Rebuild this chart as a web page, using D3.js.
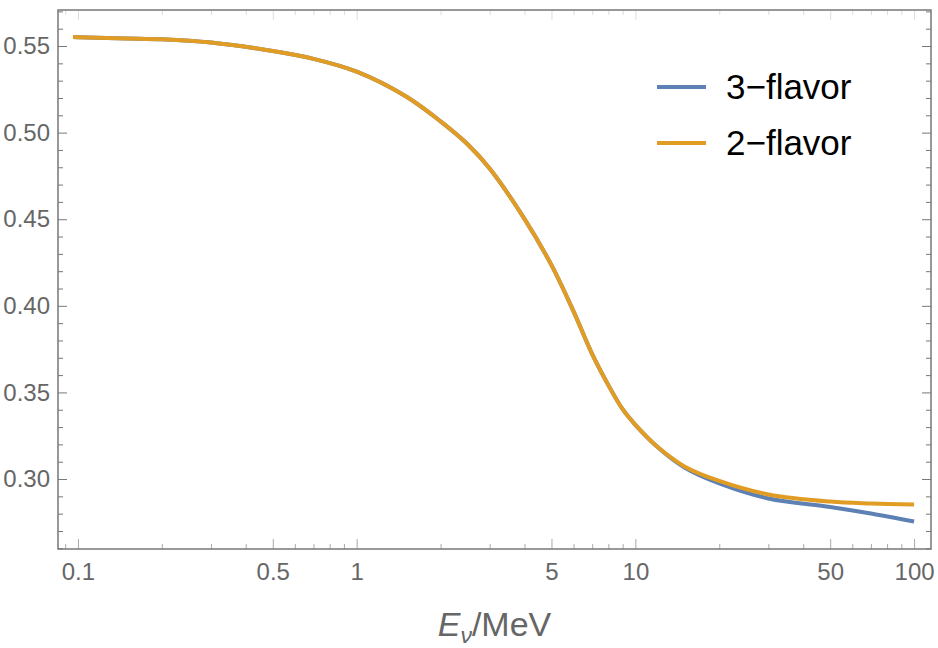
<!DOCTYPE html>
<meta charset="utf-8">
<style>
body { margin: 0; background: #fff; font-family: "Liberation Sans", Arial, sans-serif; }
.axis text { fill: #666; font-size: 24px; font-family: "Liberation Sans", Arial, sans-serif; }
.axis .domain { display: none; }
.ylab line { stroke: #777; }
.xlab line { stroke: #aaa; }
.top line { stroke: #ddd; }
.legend { font-size: 35px; fill: #000; }
</style>
<body>
<script src="https://d3js.org/d3.v7.min.js"></script>
<script>

// neutrino energy (MeV) and the two curves
var energy      = [0.096, 0.1, 0.15, 0.2, 0.3, 0.5, 0.7, 1, 1.5, 2, 2.5, 3, 4, 5, 6, 7, 8, 9, 10, 12, 15, 20, 30, 50, 70, 100];
var threeFlavor = [0.5552, 0.5551, 0.5544, 0.5539, 0.5520, 0.5471, 0.5426, 0.5352, 0.5210, 0.5065, 0.4933, 0.4793, 0.4502, 0.4235, 0.3968, 0.3721, 0.3542, 0.3403, 0.3313, 0.3185, 0.3067, 0.2975, 0.2888, 0.2839, 0.2801, 0.2755];
var twoFlavor   = [0.5552, 0.5551, 0.5544, 0.5539, 0.5520, 0.5471, 0.5426, 0.5352, 0.5210, 0.5065, 0.4933, 0.4793, 0.4502, 0.4235, 0.3968, 0.3721, 0.3542, 0.3403, 0.3313, 0.3186, 0.3073, 0.2989, 0.2911, 0.2870, 0.2859, 0.2853];

var xMajor = [0.1, 0.5, 1, 5, 10, 50, 100];
var yMajor = [0.30, 0.35, 0.40, 0.45, 0.50, 0.55];

var seriesNames  = ["3\u2212flavor", "2\u2212flavor"];
var seriesColors = ["#5E81B5", "#E19C24"];

var W = 938, H = 648;
var frame = {left: 58, right: 931, top: 10, bottom: 549};

var x = d3.scaleLog().domain([0.0848, 115]).range([frame.left, frame.right]);
var y = d3.scaleLinear().domain([0.2596, 0.5708]).range([frame.bottom, frame.top]);

var svg = d3.select("body").append("svg")
    .attr("width", W)
    .attr("height", H);

// minor ticks
var xMinor = x.ticks().filter(function(d) { return xMajor.indexOf(+d.toPrecision(3)) < 0; });
var yMinor = y.ticks(30).filter(function(d) { return yMajor.indexOf(+d.toFixed(2)) < 0; });

// bottom
svg.append("g").attr("class", "axis xlab")
    .attr("transform", "translate(0," + frame.bottom + ")")
    .call(d3.axisBottom(x).tickValues(xMinor).tickSize(-5).tickFormat(""));
svg.append("g").attr("class", "axis xlab")
    .attr("transform", "translate(0," + frame.bottom + ")")
    .call(d3.axisBottom(x).tickValues(xMajor).tickSize(-10).tickPadding(14)
        .tickFormat(function(d) { return String(d); }));

// top (faint, no labels)
svg.append("g").attr("class", "axis top")
    .attr("transform", "translate(0," + frame.top + ")")
    .call(d3.axisTop(x).tickValues(xMinor).tickSize(-5).tickFormat(""));
svg.append("g").attr("class", "axis top")
    .attr("transform", "translate(0," + frame.top + ")")
    .call(d3.axisTop(x).tickValues(xMajor).tickSize(-10).tickFormat(""));

// left
svg.append("g").attr("class", "axis ylab")
    .attr("transform", "translate(" + frame.left + ",0)")
    .call(d3.axisLeft(y).tickValues(yMinor).tickSize(-5).tickFormat(""));
svg.append("g").attr("class", "axis ylab")
    .attr("transform", "translate(" + frame.left + ",0)")
    .call(d3.axisLeft(y).tickValues(yMajor).tickSize(-9).tickPadding(8).tickFormat(d3.format(".2f")));

// right
svg.append("g").attr("class", "axis ylab")
    .attr("transform", "translate(" + frame.right + ",0)")
    .call(d3.axisRight(y).tickValues(yMinor).tickSize(-5).tickFormat(""));
svg.append("g").attr("class", "axis ylab")
    .attr("transform", "translate(" + frame.right + ",0)")
    .call(d3.axisRight(y).tickValues(yMajor).tickSize(-9).tickFormat(""));

// frame
svg.append("rect")
    .attr("x", frame.left).attr("y", frame.top)
    .attr("width", frame.right - frame.left)
    .attr("height", frame.bottom - frame.top)
    .attr("fill", "none")
    .attr("stroke", "#777")
    .attr("stroke-width", 1.5);

// curves
var line = d3.line()
    .x(function(d) { return x(d[0]); })
    .y(function(d) { return y(d[1]); })
    .curve(d3.curveCatmullRom.alpha(0.5));

[threeFlavor, twoFlavor].forEach(function(vals, i) {
    svg.append("path")
        .datum(energy.map(function(e, j) { return [e, vals[j]]; }))
        .attr("fill", "none")
        .attr("stroke", seriesColors[i])
        .attr("stroke-width", 4)
        .attr("d", line);
});

// legend
seriesNames.forEach(function(name, i) {
    var ly = 87 + i * 56;
    svg.append("line")
        .attr("x1", 657).attr("x2", 706)
        .attr("y1", ly).attr("y2", ly)
        .attr("stroke", seriesColors[i])
        .attr("stroke-width", 4);
    svg.append("text")
        .attr("class", "legend")
        .attr("x", 726)
        .attr("y", ly + 12)
        .text(name);
});

// x axis title
var title = svg.append("text")
    .attr("x", (frame.left + frame.right) / 2)
    .attr("y", 636)
    .attr("text-anchor", "middle")
    .style("font-size", "34px")
    .style("fill", "#666");
title.append("tspan").style("font-style", "italic").text("E");
title.append("tspan").style("font-style", "italic").style("font-size", "23px").attr("dy", 7).text("\u03bd");
title.append("tspan").attr("dy", -7).text("/MeV");

</script>
</body>
